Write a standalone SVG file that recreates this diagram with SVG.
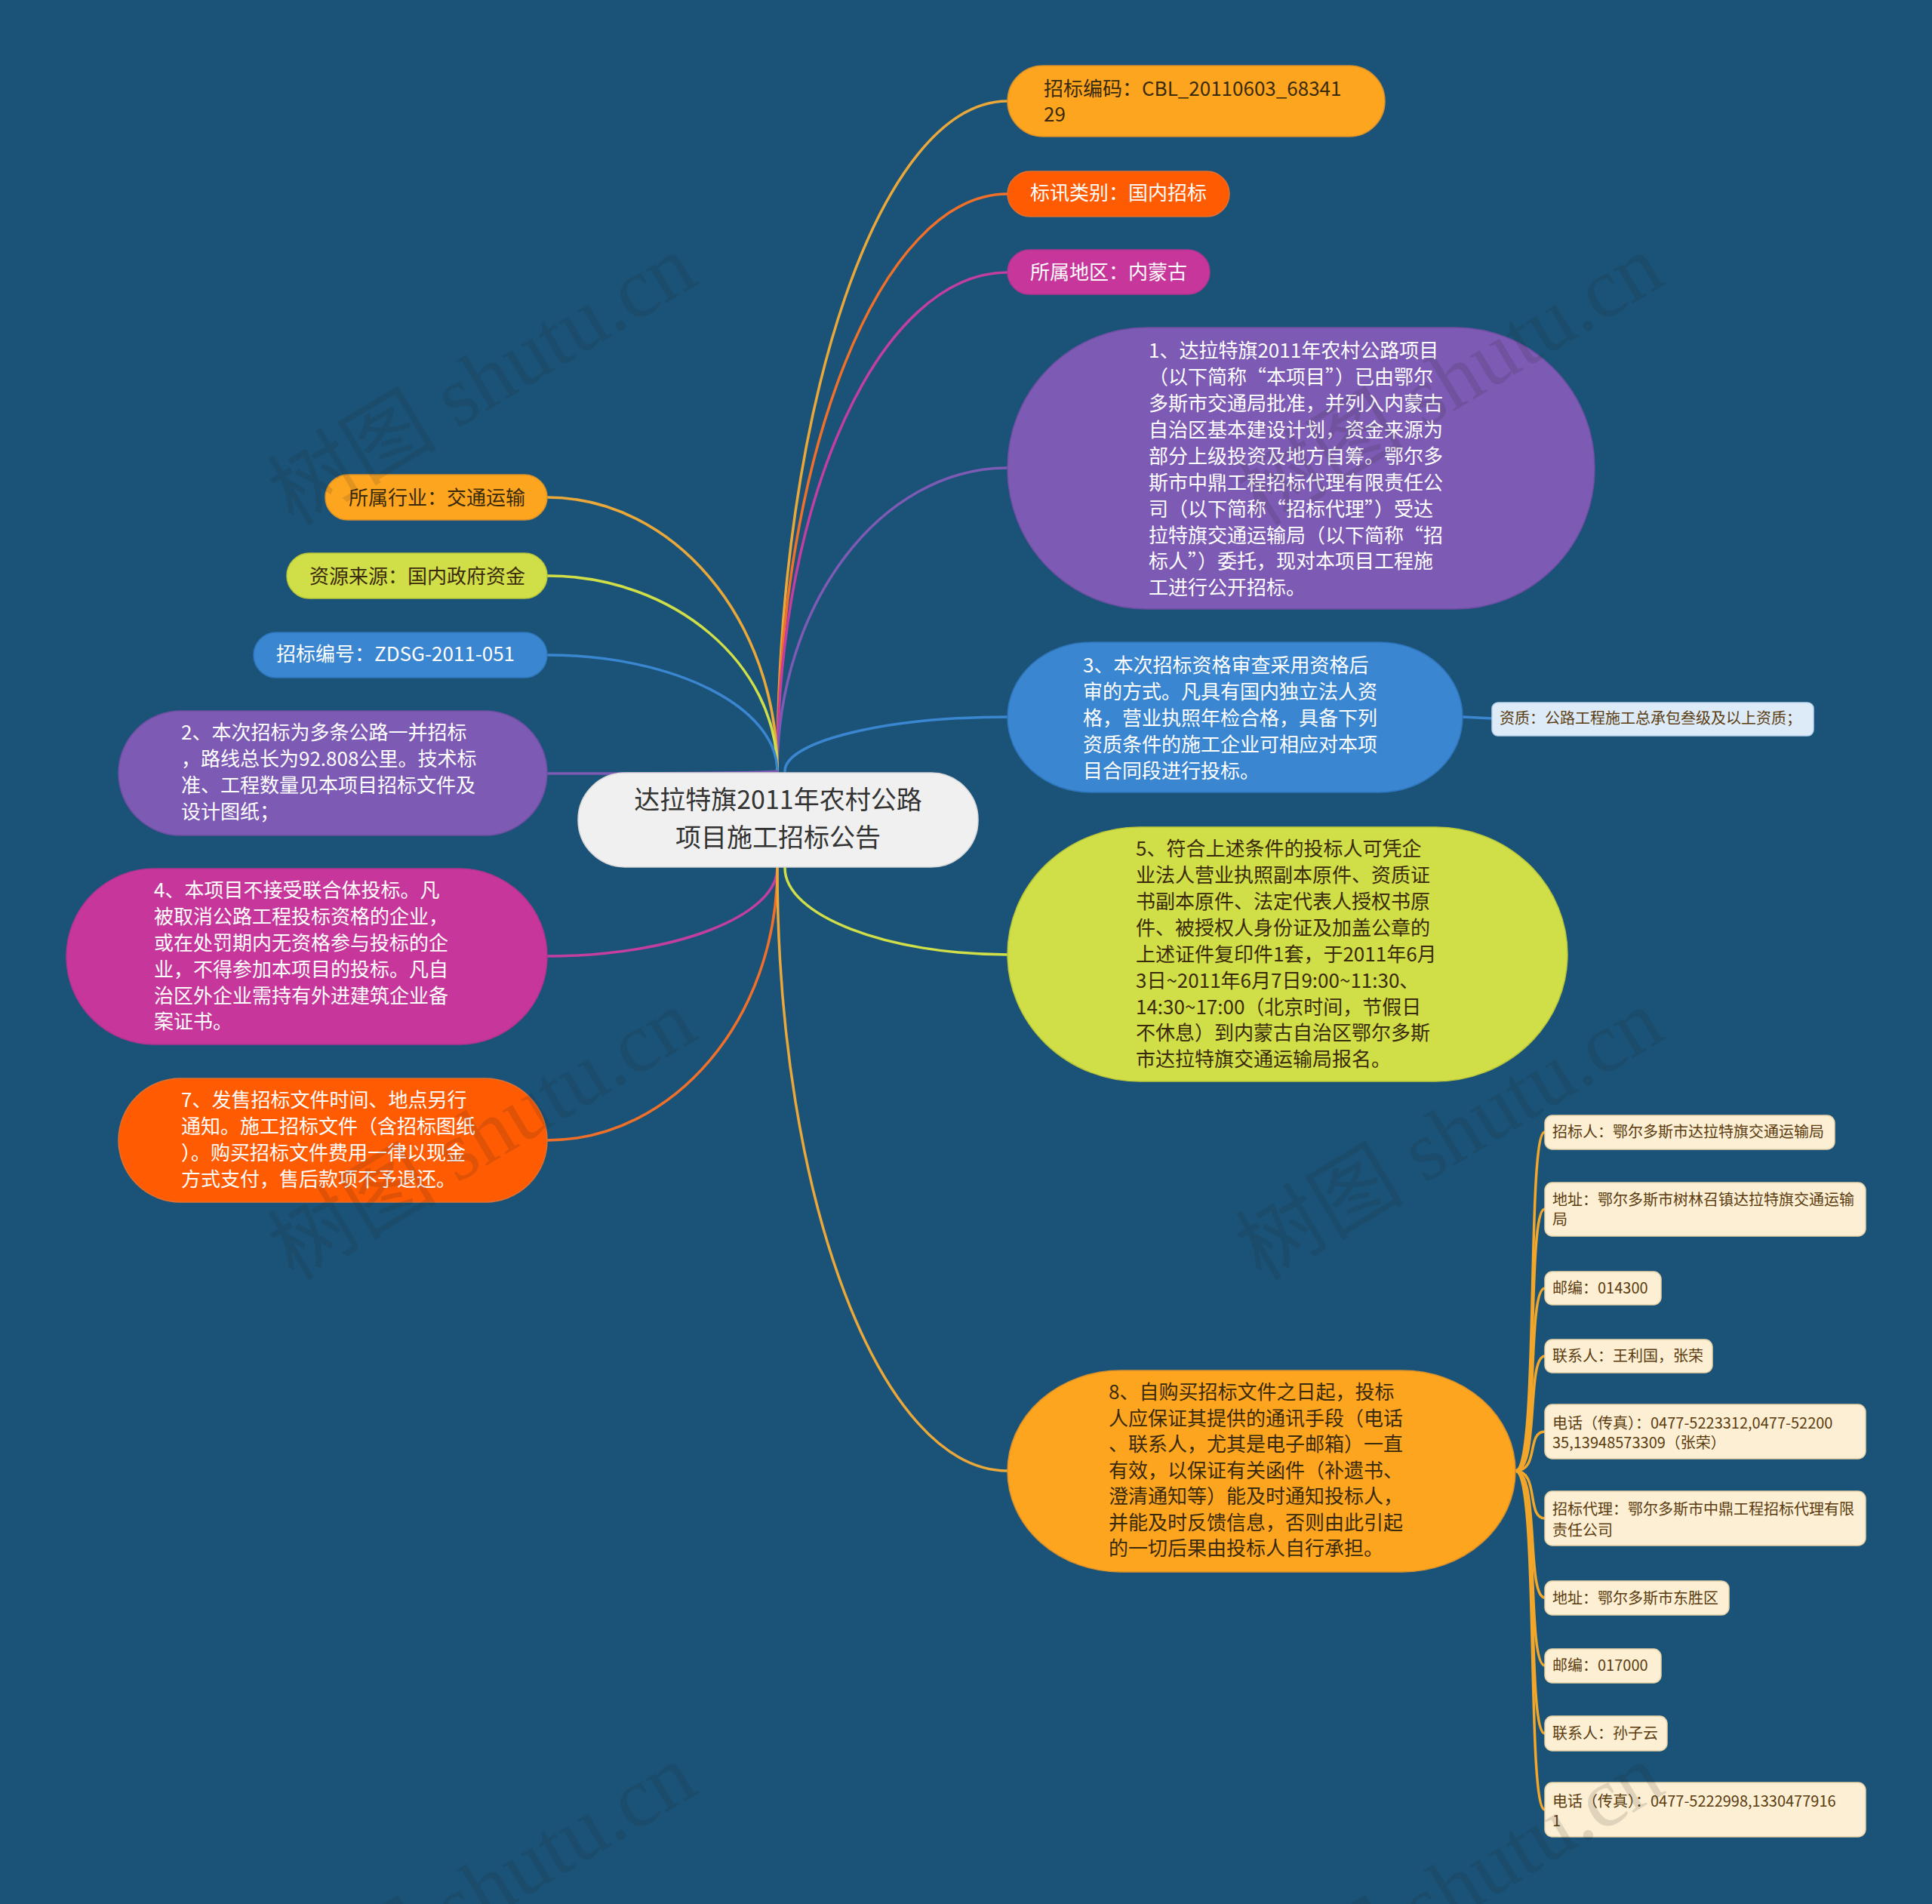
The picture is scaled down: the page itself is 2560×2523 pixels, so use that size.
<svg xmlns="http://www.w3.org/2000/svg" width="2560" height="2523" viewBox="0 0 2560 2523">
<defs>
<style>
.t{font-family:"Noto Sans CJK SC","Noto Sans",sans-serif;font-size:26px}
.w{fill:#ffffff}
.d{fill:#3a2a0c}
.s{font-family:"Noto Sans CJK SC","Noto Sans",sans-serif;font-size:20px;fill:#5a3c10}
.c{fill:none;stroke-width:3.5;stroke-linecap:round}
.wm{font-family:"Liberation Serif","Noto Sans CJK SC",serif;font-size:112px;fill:#222;opacity:0.13}
.sub{fill:#fdefd3;stroke:#e9d3a8;stroke-width:1.5}
</style>
</defs>
<rect width="2560" height="2523" fill="#1a5377"/>

<g id="connectors">
<path class="c" stroke="#eaa83a" d="M1030 1022 C1030 534 1167 134 1335 134"/>
<path class="c" stroke="#f0702a" d="M1030 1022 C1030 601 1167 257 1335 257"/>
<path class="c" stroke="#c23fa0" d="M1030 1022 C1030 658 1167 361 1335 361"/>
<path class="c" stroke="#7d5ab3" d="M1030 1022 C1030 801 1167 620 1335 620"/>
<path class="c" stroke="#3a86d0" d="M1040 1022 C1040 982 1175 950 1335 950"/>
<path class="c" stroke="#3a86d0" d="M1938 950 L1977 952"/>
<path class="c" stroke="#eaa83a" d="M1030 1022 C1030 822 893 659 725 659"/>
<path class="c" stroke="#d0de47" d="M1030 1022 C1030 880 893 763 725 763"/>
<path class="c" stroke="#3a86d0" d="M1030 1022 C1030 937 893 868 725 868"/>
<path class="c" stroke="#7d5ab3" d="M1030 1022 C1000 1025 800 1025 725 1025"/>
<path class="c" stroke="#c23fa0" d="M1030 1150 C1030 1214 893 1267 725 1267"/>
<path class="c" stroke="#f0702a" d="M1030 1150 C1030 1349 893 1511 725 1511"/>
<path class="c" stroke="#d0de47" d="M1040 1150 C1040 1213 1175 1265 1335 1265"/>
<path class="c" stroke="#eaa83a" d="M1030 1150 C1030 1589 1167 1949 1335 1949"/>
<g stroke="#f2a62a">
<path class="c" d="M2008 1949 C2040 1949 2022 1500 2047 1500"/>
<path class="c" d="M2008 1949 C2040 1949 2022 1602 2047 1602"/>
<path class="c" d="M2008 1949 C2040 1949 2022 1707 2047 1707"/>
<path class="c" d="M2008 1949 C2040 1949 2022 1797 2047 1797"/>
<path class="c" d="M2008 1949 C2040 1949 2022 1897 2047 1897"/>
<path class="c" d="M2008 1949 C2040 1949 2022 2012 2047 2012"/>
<path class="c" d="M2008 1949 C2040 1949 2022 2117 2047 2117"/>
<path class="c" d="M2008 1949 C2040 1949 2022 2207 2047 2207"/>
<path class="c" d="M2008 1949 C2040 1949 2022 2297 2047 2297"/>
<path class="c" d="M2008 1949 C2040 1949 2022 2398 2047 2398"/>
</g>
</g>

<g id="center">
<rect x="766" y="1024" width="530" height="125" rx="62" fill="#f0f0f0" stroke="#d8d8d8" stroke-width="1.5"/>
<text x="1031" y="1072" text-anchor="middle" font-family="Noto Sans CJK SC, sans-serif" font-size="34" fill="#333">达拉特旗2011年农村公路</text>
<text x="1031" y="1122" text-anchor="middle" font-family="Noto Sans CJK SC, sans-serif" font-size="34" fill="#333">项目施工招标公告</text>
</g>

<g id="r1">
<rect x="1335" y="87" width="500" height="94" rx="47" fill="#fea51f" stroke="#d9902a" stroke-width="1.5"/>
<text class="t d" x="1383" y="127">招标编码：CBL_20110603_68341</text>
<text class="t d" x="1383" y="161">29</text>
</g>
<g id="r2">
<rect x="1335" y="227" width="294" height="60" rx="30" fill="#fe5b02" stroke="#e07030" stroke-width="1.5"/>
<text class="t w" x="1365" y="265">标讯类别：国内招标</text>
</g>
<g id="r3">
<rect x="1335" y="331" width="268" height="59" rx="29.5" fill="#c7379b" stroke="#b03590" stroke-width="1.5"/>
<text class="t w" x="1365" y="370">所属地区：内蒙古</text>
</g>
<g id="n1">
<rect x="1335" y="434" width="778" height="373" rx="185" ry="186" fill="#7d5ab3" stroke="#6e4fa3" stroke-width="1.5"/>
<g class="t w">
<text x="1522" y="474">1、达拉特旗2011年农村公路项目</text>
<text x="1522" y="509">（以下简称“本项目”）已由鄂尔</text>
<text x="1522" y="544">多斯市交通局批准，并列入内蒙古</text>
<text x="1522" y="579">自治区基本建设计划，资金来源为</text>
<text x="1522" y="614">部分上级投资及地方自筹。鄂尔多</text>
<text x="1522" y="649">斯市中鼎工程招标代理有限责任公</text>
<text x="1522" y="684">司（以下简称“招标代理”）受达</text>
<text x="1522" y="719">拉特旗交通运输局（以下简称“招</text>
<text x="1522" y="753">标人”）委托，现对本项目工程施</text>
<text x="1522" y="788">工进行公开招标。</text>
</g>
</g>
<g id="n3">
<rect x="1335" y="851" width="603" height="199" rx="110" ry="99.5" fill="#3a86d0" stroke="#2f75bb" stroke-width="1.5"/>
<g class="t w">
<text x="1435" y="891">3、本次招标资格审查采用资格后</text>
<text x="1435" y="926">审的方式。凡具有国内独立法人资</text>
<text x="1435" y="961">格，营业执照年检合格，具备下列</text>
<text x="1435" y="996">资质条件的施工企业可相应对本项</text>
<text x="1435" y="1031">目合同段进行投标。</text>
</g>
</g>
<g id="n3a">
<rect x="1977" y="931" width="426" height="44" rx="8" fill="#ddebf8" stroke="#b9d3ec" stroke-width="1.5"/>
<text class="s" x="1987" y="959" fill="#223">资质：公路工程施工总承包叁级及以上资质；</text>
</g>
<g id="n5">
<rect x="1335" y="1096" width="742" height="337" rx="175" ry="168.5" fill="#d0de47" stroke="#b9c63a" stroke-width="1.5"/>
<g class="t d">
<text x="1505" y="1134">5、符合上述条件的投标人可凭企</text>
<text x="1505" y="1169">业法人营业执照副本原件、资质证</text>
<text x="1505" y="1204">书副本原件、法定代表人授权书原</text>
<text x="1505" y="1239">件、被授权人身份证及加盖公章的</text>
<text x="1505" y="1274">上述证件复印件1套，于2011年6月</text>
<text x="1505" y="1309">3日~2011年6月7日9:00~11:30、</text>
<text x="1505" y="1344">14:30~17:00（北京时间，节假日</text>
<text x="1505" y="1378">不休息）到内蒙古自治区鄂尔多斯</text>
<text x="1505" y="1413">市达拉特旗交通运输局报名。</text>
</g>
</g>
<g id="n8">
<rect x="1335" y="1816" width="673" height="267" rx="150" ry="133.5" fill="#fea51f" stroke="#d9902a" stroke-width="1.5"/>
<g class="t d">
<text x="1469" y="1854">8、自购买招标文件之日起，投标</text>
<text x="1469" y="1889">人应保证其提供的通讯手段（电话</text>
<text x="1469" y="1923">、联系人，尤其是电子邮箱）一直</text>
<text x="1469" y="1958">有效，以保证有关函件（补遗书、</text>
<text x="1469" y="1992">澄清通知等）能及时通知投标人，</text>
<text x="1469" y="2027">并能及时反馈信息，否则由此引起</text>
<text x="1469" y="2061">的一切后果由投标人自行承担。</text>
</g>
</g>

<g id="s1"><rect class="sub" x="2047" y="1478" width="384" height="45" rx="10"/><text class="s" x="2057" y="1507">招标人：鄂尔多斯市达拉特旗交通运输局</text></g>
<g id="s2"><rect class="sub" x="2047" y="1567" width="425" height="71" rx="10"/><text class="s" x="2057" y="1597">地址：鄂尔多斯市树林召镇达拉特旗交通运输</text><text class="s" x="2057" y="1623">局</text></g>
<g id="s3"><rect class="sub" x="2047" y="1685" width="154" height="44" rx="10"/><text class="s" x="2057" y="1714">邮编：014300</text></g>
<g id="s4"><rect class="sub" x="2047" y="1775" width="222" height="44" rx="10"/><text class="s" x="2057" y="1804">联系人：王利国，张荣</text></g>
<g id="s5"><rect class="sub" x="2047" y="1861" width="425" height="72" rx="10"/><text class="s" x="2057" y="1893">电话（传真）：0477-5223312,0477-52200</text><text class="s" x="2057" y="1919">35,13948573309（张荣）</text></g>
<g id="s6"><rect class="sub" x="2047" y="1976" width="425" height="72" rx="10"/><text class="s" x="2057" y="2007">招标代理：鄂尔多斯市中鼎工程招标代理有限</text><text class="s" x="2057" y="2035">责任公司</text></g>
<g id="s7"><rect class="sub" x="2047" y="2095" width="244" height="45" rx="10"/><text class="s" x="2057" y="2125">地址：鄂尔多斯市东胜区</text></g>
<g id="s8"><rect class="sub" x="2047" y="2185" width="154" height="45" rx="10"/><text class="s" x="2057" y="2214">邮编：017000</text></g>
<g id="s9"><rect class="sub" x="2047" y="2274" width="162" height="46" rx="10"/><text class="s" x="2057" y="2304">联系人：孙子云</text></g>
<g id="s10"><rect class="sub" x="2047" y="2362" width="425" height="72" rx="10"/><text class="s" x="2057" y="2394">电话（传真）：0477-5222998,1330477916</text><text class="s" x="2057" y="2420">1</text></g>

<g id="l1">
<rect x="431" y="629" width="294" height="60" rx="30" fill="#fea51f" stroke="#d9902a" stroke-width="1.5"/>
<text class="t d" x="462" y="669">所属行业：交通运输</text>
</g>
<g id="l2">
<rect x="380" y="733" width="345" height="60" rx="30" fill="#d0de47" stroke="#b9c63a" stroke-width="1.5"/>
<text class="t d" x="410" y="773">资源来源：国内政府资金</text>
</g>
<g id="l3">
<rect x="336" y="838" width="389" height="60" rx="30" fill="#3a86d0" stroke="#2f75bb" stroke-width="1.5"/>
<text class="t w" x="366" y="876">招标编号：ZDSG-2011-051</text>
</g>
<g id="l4">
<rect x="157" y="942" width="568" height="165" rx="82.5" fill="#7d5ab3" stroke="#6e4fa3" stroke-width="1.5"/>
<g class="t w">
<text x="240" y="980">2、本次招标为多条公路一并招标</text>
<text x="240" y="1015">，路线总长为92.808公里。技术标</text>
<text x="240" y="1050">准、工程数量见本项目招标文件及</text>
<text x="240" y="1085">设计图纸；</text>
</g>
</g>
<g id="l5">
<rect x="88" y="1151" width="637" height="233" rx="116.5" fill="#c7379b" stroke="#b03590" stroke-width="1.5"/>
<g class="t w">
<text x="204" y="1189">4、本项目不接受联合体投标。凡</text>
<text x="204" y="1224">被取消公路工程投标资格的企业，</text>
<text x="204" y="1259">或在处罚期内无资格参与投标的企</text>
<text x="204" y="1294">业，不得参加本项目的投标。凡自</text>
<text x="204" y="1329">治区外企业需持有外进建筑企业备</text>
<text x="204" y="1363">案证书。</text>
</g>
</g>
<g id="l6">
<rect x="157" y="1429" width="568" height="164" rx="82" fill="#fe5b02" stroke="#e07030" stroke-width="1.5"/>
<g class="t w">
<text x="240" y="1467">7、发售招标文件时间、地点另行</text>
<text x="240" y="1502">通知。施工招标文件（含招标图纸</text>
<text x="240" y="1537">）。购买招标文件费用一律以现金</text>
<text x="240" y="1572">方式支付，售后款项不予退还。</text>
</g>
</g>

<g id="watermark">
<text class="wm" x="645" y="540" text-anchor="middle" transform="rotate(-31 645 514)">树图 shutu.cn</text>
<text class="wm" x="1927" y="540" text-anchor="middle" transform="rotate(-31 1927 514)">树图 shutu.cn</text>
<text class="wm" x="645" y="1540" text-anchor="middle" transform="rotate(-31 645 1514)">树图 shutu.cn</text>
<text class="wm" x="1927" y="1540" text-anchor="middle" transform="rotate(-31 1927 1514)">树图 shutu.cn</text>
<text class="wm" x="645" y="2540" text-anchor="middle" transform="rotate(-31 645 2514)">树图 shutu.cn</text>
<text class="wm" x="1927" y="2540" text-anchor="middle" transform="rotate(-31 1927 2514)">树图 shutu.cn</text>
</g>
</svg>
